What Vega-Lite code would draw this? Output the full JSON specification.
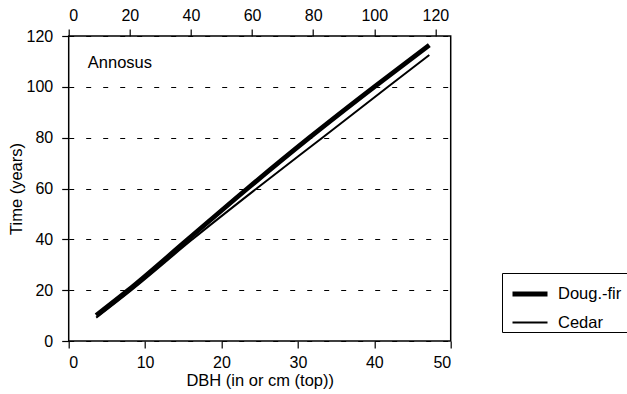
{
  "$schema": "https://vega.github.io/schema/vega-lite/v6.json",
  "width": 382,
  "height": 305,
  "autosize": {"type": "none"},
  "padding": {"left": 68.7, "top": 36, "right": 176.3, "bottom": 53},
  "config": {
    "font": "Liberation Sans",
    "view": {"stroke": "black", "strokeWidth": 1.5},
    "axis": {
      "labelFont": "Liberation Sans",
      "labelFontSize": 16,
      "labelColor": "black",
      "titleFont": "Liberation Sans",
      "titleFontSize": 16.5,
      "titleFontWeight": "normal",
      "titleColor": "black",
      "tickColor": "black",
      "tickSize": 7,
      "tickWidth": 1.2,
      "domain": false
    }
  },
  "layer": [
    {
      "layer": [
        {
          "data": {
            "values": [
              {"species": "Doug.-fir", "dbh": 3.6, "time": 10.1},
              {"species": "Doug.-fir", "dbh": 7.8, "time": 20},
              {"species": "Doug.-fir", "dbh": 15.6, "time": 40},
              {"species": "Doug.-fir", "dbh": 23.4, "time": 60},
              {"species": "Doug.-fir", "dbh": 31.5, "time": 80},
              {"species": "Doug.-fir", "dbh": 40.0, "time": 100},
              {"species": "Doug.-fir", "dbh": 47.2, "time": 116.4},
              {"species": "Cedar", "dbh": 3.6, "time": 9.2},
              {"species": "Cedar", "dbh": 8.2, "time": 20},
              {"species": "Cedar", "dbh": 16.2, "time": 40},
              {"species": "Cedar", "dbh": 24.6, "time": 60},
              {"species": "Cedar", "dbh": 33.2, "time": 80},
              {"species": "Cedar", "dbh": 41.8, "time": 100},
              {"species": "Cedar", "dbh": 47.2, "time": 112.5}
            ]
          },
          "mark": {"type": "line", "color": "black", "interpolate": "monotone"},
          "encoding": {
            "x": {
              "field": "dbh", "type": "quantitative",
              "scale": {"domain": [0, 50], "nice": false},
              "axis": {"orient": "bottom", "values": [0, 10, 20, 30, 40, 50], "title": "DBH (in or cm (top))", "grid": false, "labelPadding": 6, "titlePadding": 2}
            },
            "y": {
              "field": "time", "type": "quantitative",
              "scale": {"domain": [0, 120], "nice": false},
              "axis": {"values": [0, 20, 40, 60, 80, 100, 120], "title": "Time (years)", "grid": true, "gridDash": [5, 12], "gridColor": "black", "gridWidth": 1, "labelPadding": 9, "titlePadding": 2}
            },
            "strokeWidth": {
              "field": "species", "type": "nominal",
              "scale": {"domain": ["Doug.-fir", "Cedar"], "range": [4.8, 2]},
              "legend": {
                "title": " ",
                "titleOrient": "right",
                "titlePadding": 20,
                "orient": "none",
                "legendX": 433.3,
                "legendY": 237,
                "strokeColor": "black",
                "padding": 1,
                "symbolOffset": 7,
                "labelFont": "Liberation Sans",
                "labelFontSize": 16.5,
                "labelColor": "black",
                "labelOffset": 8,
                "symbolType": "stroke",
                "symbolStrokeColor": "black",
                "symbolSize": 1225,
                "rowPadding": -2
              }
            }
          }
        },
        {
          "data": {"values": [{"label": "Annosus", "dbh": 2.5, "time": 109.5}]},
          "mark": {"type": "text", "align": "left", "baseline": "middle", "fontSize": 16.5, "color": "black", "font": "Liberation Sans"},
          "encoding": {
            "x": {"field": "dbh", "type": "quantitative"},
            "y": {"field": "time", "type": "quantitative"},
            "text": {"field": "label"}
          }
        }
      ]
    },
    {
      "data": {"values": [{"cm": 0}, {"cm": 125}]},
      "mark": {"type": "point", "opacity": 0},
      "encoding": {
        "x": {
          "field": "cm", "type": "quantitative",
          "scale": {"domain": [0, 125], "nice": false},
          "axis": {"orient": "top", "values": [0, 20, 40, 60, 80, 100, 120], "title": null, "grid": false, "labelPadding": 6}
        }
      }
    }
  ],
  "resolve": {"scale": {"x": "independent"}, "axis": {"x": "independent"}}
}
